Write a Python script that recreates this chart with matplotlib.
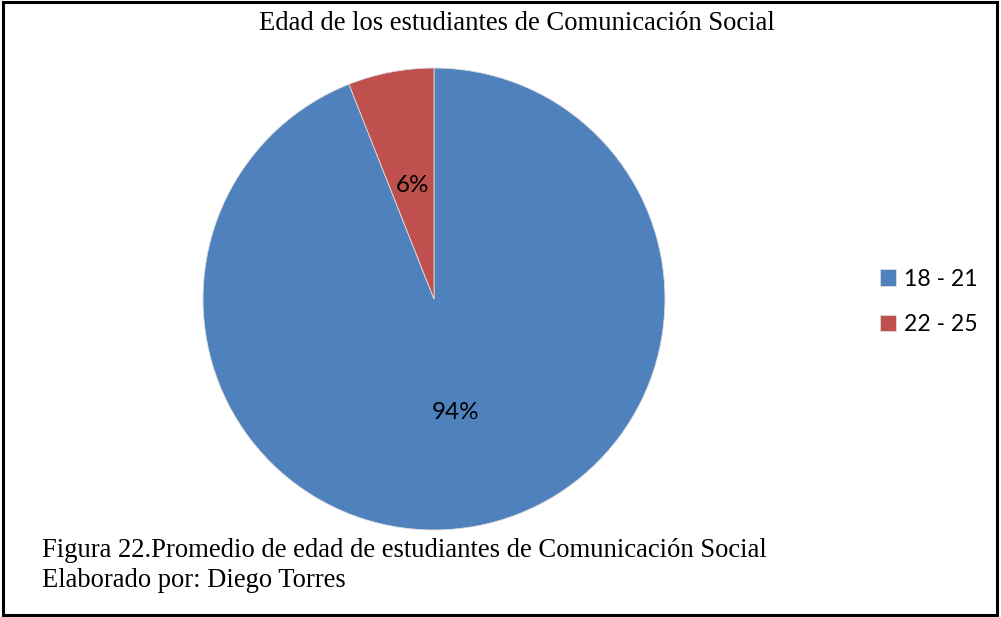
import matplotlib.pyplot as plt
from matplotlib.patches import Rectangle

labels = ['18 - 21', '22 - 25']
values = [94, 6]
colors = ['#4F81BD', '#C0504D']

fig = plt.figure(figsize=(10.01, 6.17), dpi=100)

# marco negro alrededor del gráfico
fig.patches.append(Rectangle((0.003, 0.004), 0.993, 0.992, transform=fig.transFigure,
                             fill=False, edgecolor='black', linewidth=2.2))

ax = fig.add_axes([0.2028, 0.141, 0.4615, 0.7488])
wedges, texts, autotexts = ax.pie(values, colors=colors, startangle=90, counterclock=False,
                                  autopct='%1.0f%%', pctdistance=0.5,
                                  wedgeprops={'linewidth': 0.6, 'edgecolor': '#dddddd'},
                                  textprops={'fontfamily': 'Lato', 'fontsize': 17.5})
ax.set_xlim(-1, 1)
ax.set_ylim(-1, 1)
ax.set_aspect('equal')

fig.text(0.5165, 0.962, 'Edad de los estudiantes de Comunicación Social',
         ha='center', va='center', fontfamily='Liberation Serif', fontsize=19.2)

fig.text(0.042, 0.097, 'Figura 22.Promedio de edad de estudiantes de Comunicación Social',
         ha='left', va='baseline', fontfamily='Liberation Serif', fontsize=19.2)
fig.text(0.042, 0.049, 'Elaborado por: Diego Torres',
         ha='left', va='baseline', fontfamily='Liberation Serif', fontsize=19.2)

fig.legend(wedges, labels, loc='center left', bbox_to_anchor=(0.858, 0.511),
           frameon=False, prop={'family': 'Lato', 'size': 16.6},
           handlelength=0.7, handleheight=0.7, handletextpad=0.35, labelspacing=1.05)

fig.savefig('out.png', dpi=100)
